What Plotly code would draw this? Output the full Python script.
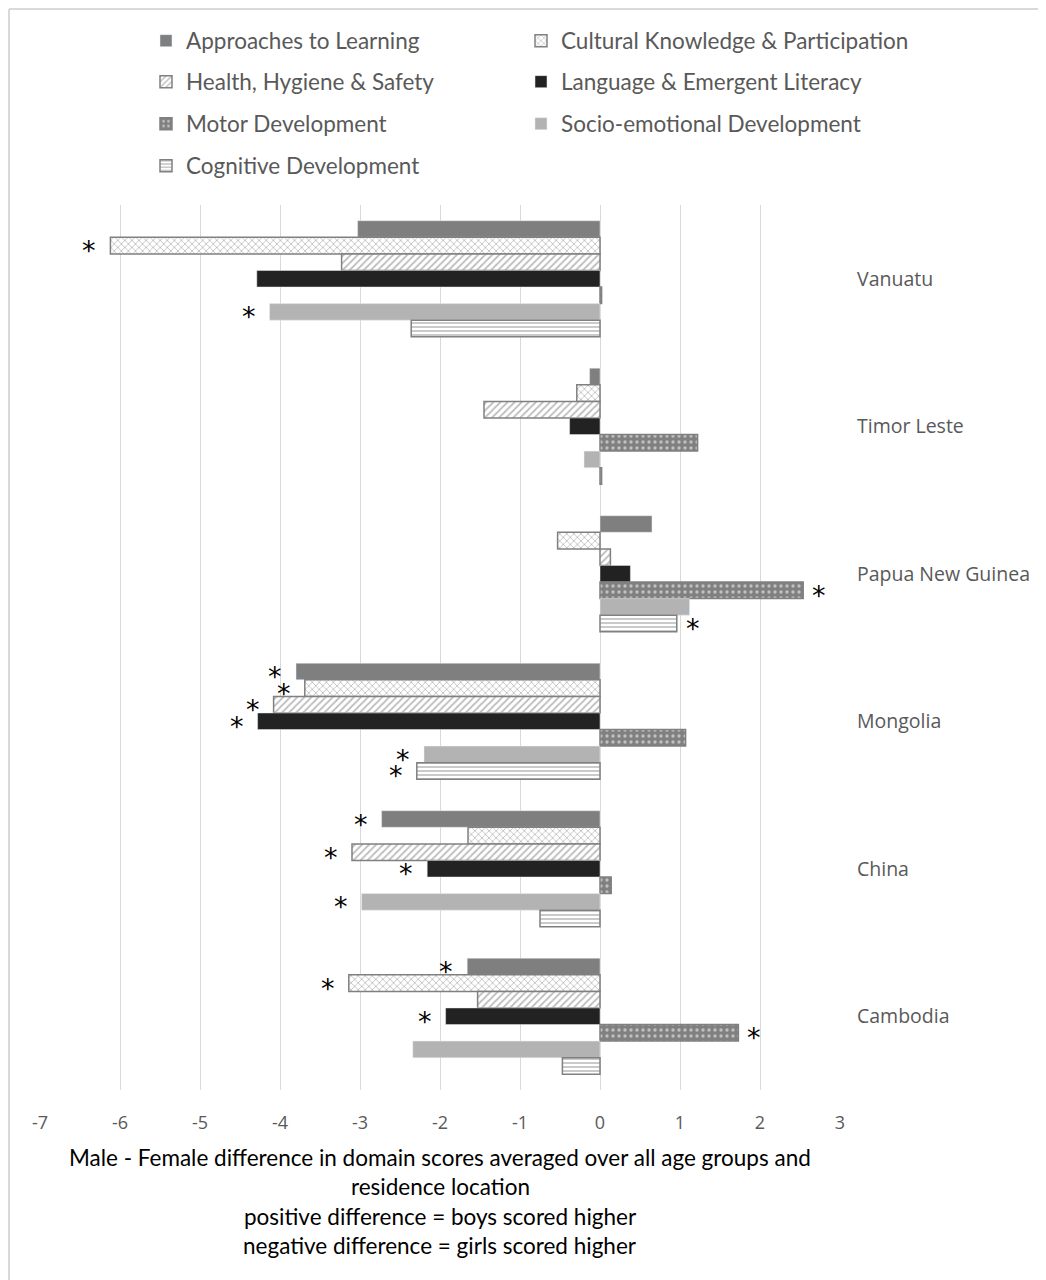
import plotly.graph_objects as go

countries = ["Vanuatu", "Timor Leste", "Papua New Guinea", "Mongolia", "China", "Cambodia"]

series_names = [
    "Approaches to Learning",
    "Cultural Knowledge & Participation",
    "Health, Hygiene & Safety",
    "Language & Emergent Literacy",
    "Motor Development",
    "Socio-emotional Development",
    "Cognitive Development",
]

approaches = [-3.03, -0.13, 0.65, -3.80, -2.73, -1.66]
cultural = [-6.12, -0.29, -0.53, -3.69, -1.65, -3.14]
health = [-3.23, -1.45, 0.13, -4.08, -3.10, -1.53]
language = [-4.29, -0.38, 0.38, -4.28, -2.16, -1.93]
motor = [0.02, 1.22, 2.54, 1.07, 0.14, 1.73]
socio = [-4.13, -0.20, 1.12, -2.20, -2.98, -2.34]
cognitive = [-2.36, 0.02, 0.96, -2.29, -0.75, -0.47]

# significance markers (*) per series, in country order
sig_approaches = [0, 0, 0, 1, 1, 1]
sig_cultural = [1, 0, 0, 1, 0, 1]
sig_health = [0, 0, 0, 1, 1, 0]
sig_language = [0, 0, 0, 1, 1, 1]
sig_motor = [0, 0, 1, 0, 0, 1]
sig_socio = [1, 0, 0, 1, 1, 0]
sig_cognitive = [0, 0, 1, 1, 0, 0]

x_ticks = [-7, -6, -5, -4, -3, -2, -1, 0, 1, 2, 3]
x_tick_labels = [str(t) for t in x_ticks]

title_lines = [
    "Male - Female difference in domain scores averaged over all age groups and",
    "residence location",
    "positive difference = boys scored higher",
    "negative difference = girls scored higher",
]

values = [approaches, cultural, health, language, motor, socio, cognitive]
sigs = [sig_approaches, sig_cultural, sig_health, sig_language, sig_motor, sig_socio, sig_cognitive]

GRAY = "#808080"
PAT = "#7a7a7a"
styles = [
    dict(color="#7f7f7f"),
    dict(color="white", line=dict(color=GRAY, width=1.5),
         pattern=dict(shape="x", fgcolor=PAT, bgcolor="white", size=5, solidity=0.3)),
    dict(color="white", line=dict(color=GRAY, width=1.5),
         pattern=dict(shape="/", fgcolor=PAT, bgcolor="white", size=5, solidity=0.35)),
    dict(color="#222222"),
    dict(color=GRAY, line=dict(color=GRAY, width=1.5),
         pattern=dict(shape=".", fgcolor="white", bgcolor=GRAY, size=6, solidity=0.25)),
    dict(color="#b3b3b3"),
    dict(color="white", line=dict(color=GRAY, width=1.5),
         pattern=dict(shape="-", fgcolor=PAT, bgcolor="white", size=4, solidity=0.4)),
]

legend_ids = ["legend"] + ["legend%d" % k for k in range(2, len(series_names) + 1)]

fig = go.Figure()
for name, vals, st, lg in zip(series_names, values, styles, legend_ids):
    fig.add_trace(go.Bar(
        y=countries, x=vals, name=name, orientation="h",
        marker=st, legend=lg, showlegend=True,
    ))

# page has an 8px body margin; reference pixel positions are converted with OFF
OFF = 8
W, H = 1046 - OFF, 1280 - OFF
L, T = 40 - OFF, 205 - OFF
PLOT_R, PLOT_B = 840 - OFF, 1090 - OFF
R, B = W - PLOT_R, H - PLOT_B
plot_h = PLOT_B - T
plot_w = PLOT_R - L
bargap = 0.213
n_series = len(series_names)
cat_px = plot_h / len(countries)
bar_px = cat_px * (1 - bargap) / n_series


def py(p):
    return (PLOT_B - (p - OFF)) / plot_h


def px(p):
    return ((p - OFF) - L) / plot_w


annotations = []
for i, (vals, sg) in enumerate(zip(values, sigs)):
    for c, v, s in zip(countries, vals, sg):
        if s:
            annotations.append(dict(
                x=v, y=c, xref="x", yref="y", text="*", showarrow=False,
                font=dict(family="DejaVu Sans", size=27, color="black"),
                xshift=-21 if v < 0 else 16,
                yshift=-(i - (n_series - 1) / 2) * bar_px - 5,
            ))

TEXT_FONT = "Lato"
TEXT_SIZE = 22.5
for line, ypx in zip(title_lines, [1157, 1186, 1216, 1245]):
    annotations.append(dict(
        x=0.5, y=py(ypx), xref="paper", yref="paper", text=line, showarrow=False,
        xanchor="center", yanchor="middle",
        font=dict(family=TEXT_FONT, size=TEXT_SIZE, color="#000000"),
    ))

legend_common = dict(
    orientation="h", xanchor="left", yanchor="middle",
    font=dict(family=TEXT_FONT, size=TEXT_SIZE, color="#595959"),
    bgcolor="rgba(0,0,0,0)", visible=True,
)
col_x = [px(146), px(521)]
rows = [41, 82, 124, 166]
legend_layout = {}
for k, lg in enumerate(legend_ids):
    legend_layout[lg] = dict(x=col_x[k % 2], y=py(rows[k // 2]), **legend_common)

fig.update_layout(
    width=W, height=H,
    margin=dict(l=L, r=R, t=T, b=B),
    paper_bgcolor="white", plot_bgcolor="white",
    showlegend=True,
    barmode="group", bargap=bargap, bargroupgap=0,
    font=dict(family="Open Sans", color="#595959"),
    xaxis=dict(
        range=[-7, 3], tickvals=x_ticks, ticktext=x_tick_labels,
        showgrid=True, gridcolor="#d9d9d9", gridwidth=1,
        zeroline=False, showline=False, ticks="",
        tickfont=dict(family="Open Sans", size=18, color="#595959"),
        ticklabelstandoff=20,
    ),
    yaxis=dict(
        categoryorder="array", categoryarray=countries, autorange="reversed",
        side="right", showgrid=False, zeroline=False, showline=False, ticks="",
        tickfont=dict(family="Open Sans", size=19.5, color="#595959"),
        ticklabelstandoff=16,
    ),
    annotations=annotations,
    shapes=[
        dict(type="line", xref="paper", yref="paper", x0=px(9), x1=px(1046), y0=py(9), y1=py(9),
             line=dict(color="#d9d9d9", width=2)),
        dict(type="line", xref="paper", yref="paper", x0=px(9), x1=px(9), y0=py(9), y1=py(1280),
             line=dict(color="#d9d9d9", width=2)),
    ],
    **legend_layout,
)

fig.write_html("out.html")
